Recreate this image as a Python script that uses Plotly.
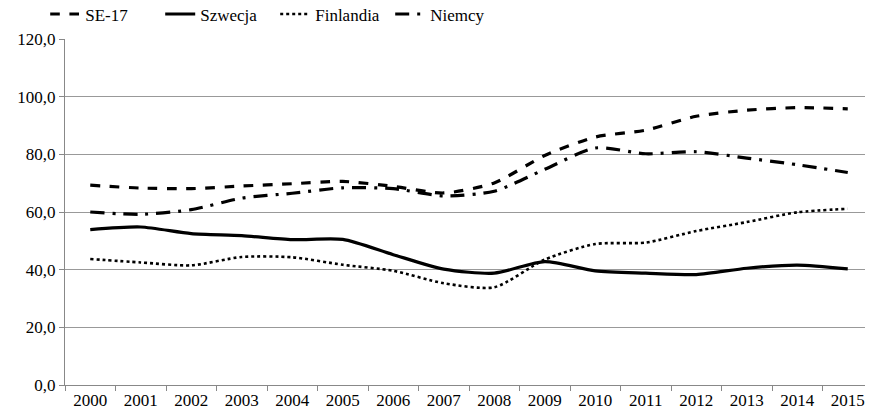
import plotly.graph_objects as go

years = [str(y) for y in range(2000, 2016)]
se17 = [69.3, 68.3, 68.1, 69.0, 69.8, 70.6, 68.9, 66.6, 70.1, 79.6, 86.0, 88.4, 93.2, 95.3, 96.2, 95.8]
szwecja = [53.9, 54.8, 52.5, 51.8, 50.4, 50.5, 45.2, 40.2, 38.8, 42.8, 39.6, 38.8, 38.3, 40.5, 41.6, 40.3]
finlandia = [43.7, 42.5, 41.5, 44.4, 44.3, 41.7, 39.6, 35.3, 33.9, 43.5, 48.9, 49.4, 53.4, 56.5, 59.9, 61.1]
niemcy = [60.0, 59.2, 60.8, 64.8, 66.5, 68.4, 68.1, 65.6, 67.2, 74.8, 82.2, 80.2, 80.9, 78.7, 76.4, 73.7]

series = [
    ("SE-17", se17, "dash", 3.2),
    ("Szwecja", szwecja, "solid", 3.2),
    ("Finlandia", finlandia, "dot", 2.6),
    ("Niemcy", niemcy, "14px,8px,3px,8px", 3.2),
]

fig = go.Figure()
for name, vals, dash, w in series:
    fig.add_trace(go.Scatter(
        x=years, y=vals, name=name, mode="lines",
        line=dict(color="black", width=w, dash=dash, shape="spline", smoothing=0.7),
    ))

font = dict(family="Liberation Serif", size=17, color="black")
fig.update_layout(
    width=865, height=407,
    margin=dict(l=57, r=0, t=31, b=30, autoexpand=False),
    plot_bgcolor="white", paper_bgcolor="white",
    font=font,
    separators=", ",
    showlegend=True,
    legend=dict(orientation="h", x=-0.0245, xanchor="left", y=1.071, yanchor="middle",
                entrywidth=70, entrywidthmode="pixels", font=font,
                itemwidth=30, bgcolor="rgba(0,0,0,0)", tracegroupgap=0),
    xaxis=dict(type="category", range=[-0.5, 15.5], tickson="boundaries", ticks="outside",
               ticklen=5, tickcolor="#888", showline=True, linecolor="#888", linewidth=1,
               showgrid=False, tickfont=font),
    yaxis=dict(range=[0, 120], dtick=20, tickformat=".1f", ticks="outside", ticklen=5,
               tickcolor="#888", showline=True, linecolor="#888", linewidth=1,
               showgrid=True, gridcolor="#999", gridwidth=1, zeroline=False, tickfont=font),
)
fig.write_html("out.html")
